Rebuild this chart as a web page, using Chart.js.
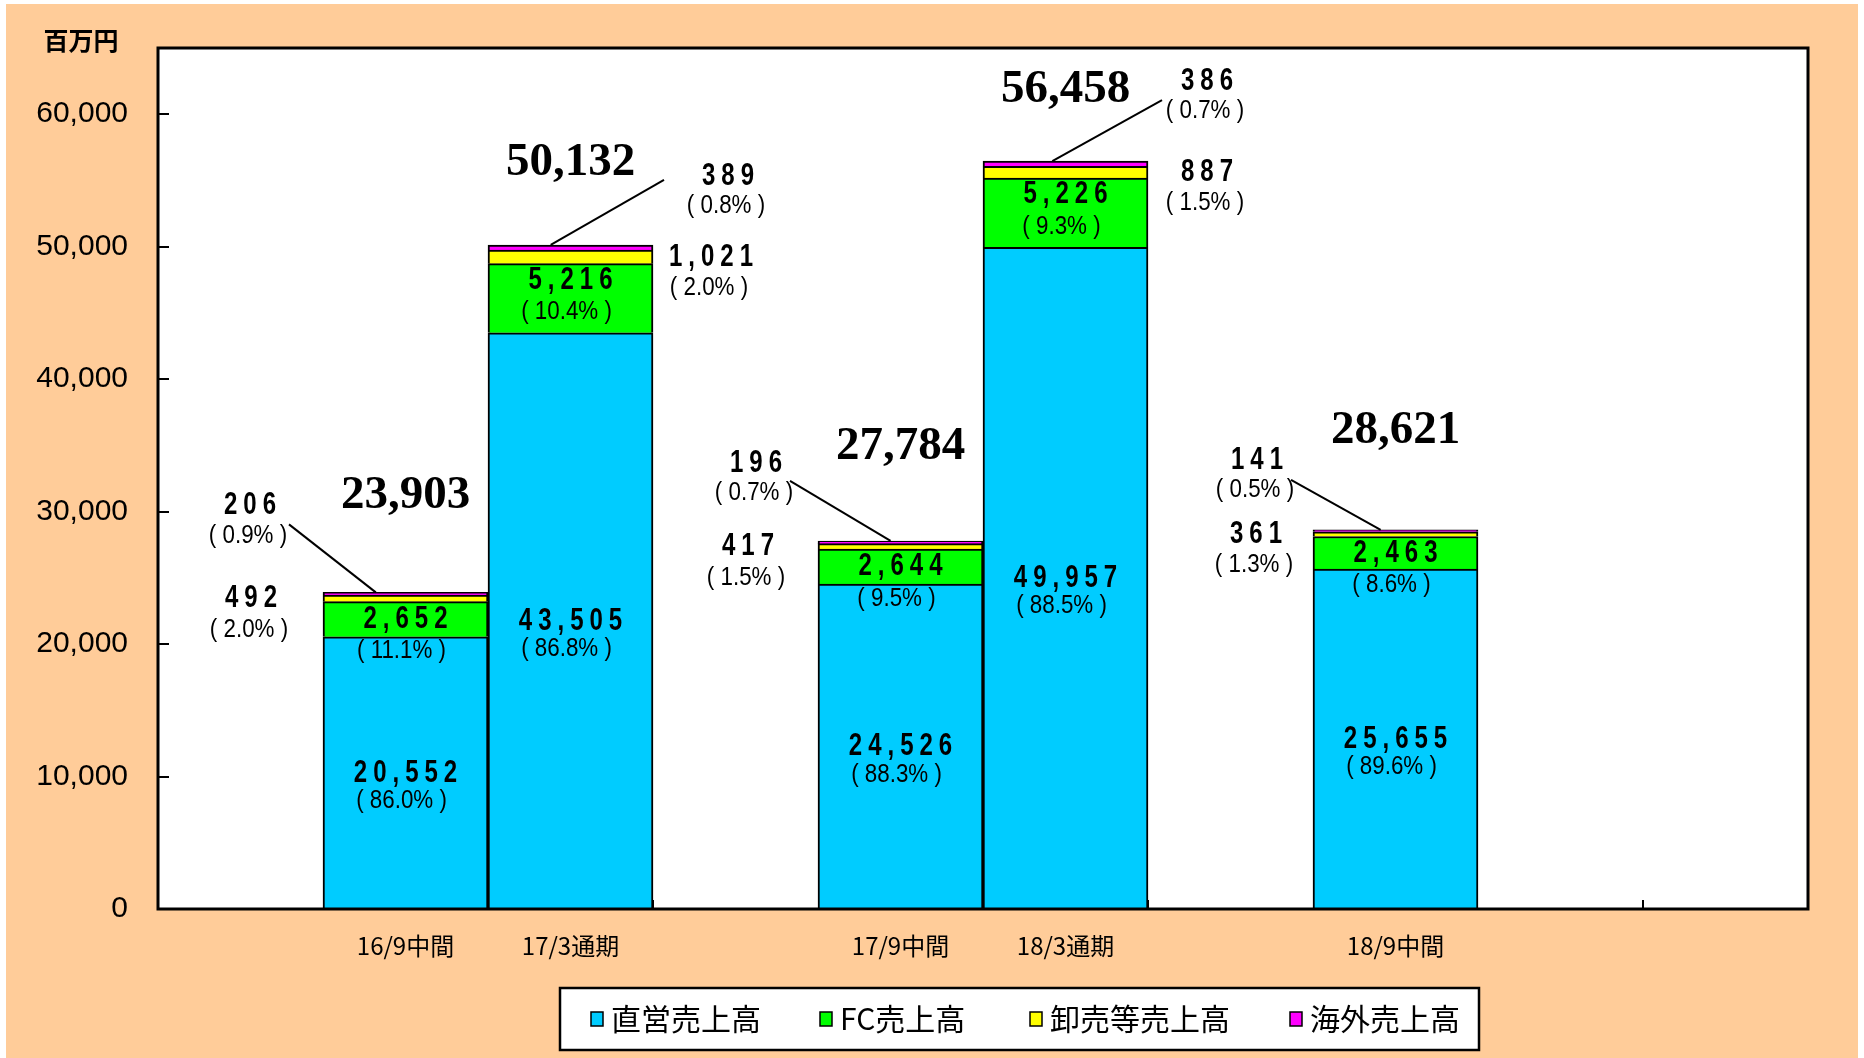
<!DOCTYPE html>
<html lang="ja">
<head>
<meta charset="utf-8">
<title>売上高推移</title>
<script src="https://cdn.jsdelivr.net/npm/chart.js@4.4.1/dist/chart.umd.min.js"></script>
<style>
  html, body { margin: 0; padding: 0; background: #fff; }
  canvas { display: block; }
</style>
</head>
<body>
<canvas id="chart" width="1864" height="1058"></canvas>
<script>
// data (百万円)
const periods = ['16/9中間', '17/3通期', '17/9中間', '18/3通期', '18/9中間']
const direct = [20552, 43505, 24526, 49957, 25655]
const fc = [2652, 5216, 2644, 5226, 2463]
const wholesale = [492, 1021, 417, 887, 361]
const overseas = [206, 389, 196, 386, 141]
const totals = [23903, 50132, 27784, 56458, 28621]
const directPct = [86.0, 86.8, 88.3, 88.5, 89.6]
const fcPct = [11.1, 10.4, 9.5, 9.3, 8.6]
const wholesalePct = [2.0, 2.0, 1.5, 1.5, 1.3]
const overseasPct = [0.9, 0.8, 0.7, 0.7, 0.5]
const seriesNames = ['直営売上高', 'FC売上高', '卸売等売上高', '海外売上高']
const yTicks = [0, 10000, 20000, 30000, 40000, 50000, 60000]
const unitLabel = '百万円'

// layout
const SLOT_COUNT = 10
const slotOf = [1, 2, 4, 5, 7]          // category slot of each bar
const colors = ['#00CCFF', '#00FF00', '#FFFF00', '#FF00FF']
const PEACH = '#FFCC99'
const totalLift = [97, 82, 94, 71, 99]
const sideDir = [-1, 1, -1, 1, -1]      // side for the small-segment labels
const wholesaleDx = [-72, 58, -70, 59, -57]
const overseasDx = [-73, 75, -62, 59, -56]
const overseasDy = [-87, -69, -78, -80, -70]
const leaderFrom = [[39, 19], [-64, 4], [34, 18], [-45, 19], [34, 20]]
const leaderTo = [0.32, 0.38, 0.44, 0.42, 0.41]
const legendX = [591, 820, 1030, 1290]

const toSlots = arr => {
  const out = Array(SLOT_COUNT).fill(null)
  slotOf.forEach((s, i) => { out[s] = arr[i] })
  return out
}
const fmt = v => v.toLocaleString('en-US')
const pct = p => `( ${p.toFixed(1)}% )`

function txt(ctx, s, x, y, font, o = {}) {
  ctx.save()
  ctx.font = font
  ctx.fillStyle = '#000'
  ctx.textAlign = o.align || 'center'
  ctx.textBaseline = 'middle'
  const sp = o.spacing || 0
  ctx.letterSpacing = sp + 'px'
  ctx.translate(x, y)
  ctx.scale(o.sx || 1, 1)
  ctx.fillText(s, (o.align || 'center') === 'center' ? sp / 2 : 0, 0)
  ctx.restore()
}

const VAL_FONT = 'bold 32px "Liberation Sans"'
const PCT_FONT = '26px "Liberation Sans"'
const valTxt = (ctx, v, x, y) => txt(ctx, fmt(v), x, y, VAL_FONT, { sx: 0.75, spacing: 8 })
const pctTxt = (ctx, p, x, y) => txt(ctx, pct(p), x, y, PCT_FONT, { sx: 0.86 })

const decor = {
  id: 'decor',
  beforeDraw(chart) {
    const { ctx, chartArea: a, width, height } = chart
    ctx.save()
    ctx.fillStyle = '#fff'
    ctx.fillRect(0, 0, width, height)
    ctx.fillStyle = PEACH
    ctx.fillRect(6, 4, width - 12, height - 4)
    ctx.fillStyle = '#fff'
    ctx.fillRect(a.left, a.top, a.right - a.left, a.bottom - a.top)
    ctx.restore()
  },
  afterDatasetsDraw(chart) {
    const { ctx, chartArea: a, scales: { x, y } } = chart
    ctx.save()
    // frame and inward tick marks
    ctx.strokeStyle = '#000'
    ctx.lineWidth = 3
    ctx.strokeRect(a.left, a.top, a.right - a.left, a.bottom - a.top)
    ctx.lineWidth = 2
    ctx.beginPath()
    yTicks.slice(1).forEach(v => {
      const py = Math.round(y.getPixelForValue(v))
      ctx.moveTo(a.left, py); ctx.lineTo(a.left + 11, py)
    })
    for (let i = 3; i < SLOT_COUNT; i += 3) {
      const px = Math.round((x.getPixelForValue(i - 1) + x.getPixelForValue(i)) / 2)
      ctx.moveTo(px, a.bottom); ctx.lineTo(px, a.bottom - 9)
    }
    ctx.stroke()

    const metas = [0, 1, 2, 3].map(k => chart.getDatasetMeta(k))
    slotOf.forEach((s, i) => {
      const seg = metas.map(m => m.data[s])
      const bx = seg[0].x, bw = seg[0].width
      const left = bx - bw / 2, right = bx + bw / 2
      const top = seg[3].y
      const mid = e => (e.y + e.base) / 2

      // total
      txt(ctx, fmt(totals[i]), bx, top - totalLift[i], 'bold 47px "Liberation Serif"')

      // 直営
      valTxt(ctx, direct[i], bx, mid(seg[0]))
      pctTxt(ctx, directPct[i], bx - 4, mid(seg[0]) + 28)

      // FC
      const fcH = seg[1].base - seg[1].y
      if (fcH > 50) {
        valTxt(ctx, fc[i], bx, mid(seg[1]) - 18)
        pctTxt(ctx, fcPct[i], bx - 4, mid(seg[1]) + 14)
      } else {
        valTxt(ctx, fc[i], bx, mid(seg[1]))
        pctTxt(ctx, fcPct[i], bx - 4, mid(seg[1]) + 32)
      }

      // 卸売等
      const edge = sideDir[i] < 0 ? left : right
      const wx = edge + wholesaleDx[i], wy = mid(seg[2])
      valTxt(ctx, wholesale[i], wx, wy)
      pctTxt(ctx, wholesalePct[i], wx - 2, wy + 31)

      // 海外 with leader line
      const ox = edge + overseasDx[i], oy = top + overseasDy[i]
      valTxt(ctx, overseas[i], ox, oy)
      pctTxt(ctx, overseasPct[i], ox - 2, oy + 30)
      ctx.strokeStyle = '#000'
      ctx.lineWidth = 2
      ctx.beginPath()
      ctx.moveTo(ox + leaderFrom[i][0], oy + leaderFrom[i][1])
      ctx.lineTo(left + bw * leaderTo[i], top)
      ctx.stroke()
    })

    // unit label
    txt(ctx, unitLabel, 81, 40, 'bold 25px "Noto Sans CJK JP"')

    // legend
    const lx = 560, ly = 988, lw = 919, lh = 62
    ctx.fillStyle = '#fff'
    ctx.fillRect(lx, ly, lw, lh)
    ctx.strokeStyle = '#000'
    ctx.lineWidth = 2.5
    ctx.strokeRect(lx, ly, lw, lh)
    chart.data.datasets.forEach((ds, k) => {
      const mx = legendX[k], my = ly + lh / 2
      ctx.fillStyle = ds.backgroundColor
      ctx.fillRect(mx, my - 7, 12, 14)
      ctx.lineWidth = 1.5
      ctx.strokeRect(mx, my - 7, 12, 14)
      txt(ctx, ds.label, mx + 20, my, '30px "Noto Sans CJK JP"', { align: 'left' })
    })
    ctx.restore()
  }
}

const series = [direct, fc, wholesale, overseas]

new Chart(document.getElementById('chart'), {
  type: 'bar',
  data: {
    labels: toSlots(periods).map(l => l || ''),
    datasets: series.map((vals, k) => ({
      label: seriesNames[k],
      data: toSlots(vals),
      backgroundColor: colors[k],
      borderColor: '#000',
      borderWidth: 2,
      categoryPercentage: 1,
      barPercentage: 1,
    })),
  },
  options: {
    responsive: false,
    animation: false,
    layout: { padding: { left: 0, right: 56, top: 48, bottom: 0 } },
    plugins: { legend: { display: false }, tooltip: { enabled: false } },
    scales: {
      x: {
        stacked: true,
        grid: { display: false, drawTicks: false },
        border: { display: false },
        ticks: {
          color: '#000',
          font: { family: '"Noto Sans CJK JP"', size: 24 },
          padding: 22,
          autoSkip: false,
          maxRotation: 0,
        },
        afterFit: s => { s.height = 149 },
      },
      y: {
        stacked: true,
        min: 0,
        max: 65000,
        grid: { display: false, drawTicks: false },
        border: { display: false },
        afterBuildTicks: s => { s.ticks = yTicks.map(v => ({ value: v })) },
        ticks: {
          color: '#000',
          font: { family: '"Liberation Sans"', size: 30 },
          padding: 30,
          callback: v => fmt(v),
        },
        afterFit: s => { s.width = 158 },
      },
    },
  },
  plugins: [decor],
})
</script>
</body>
</html>
